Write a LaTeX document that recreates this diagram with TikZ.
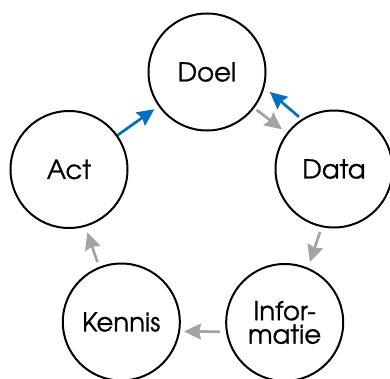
\documentclass[tikz,border=0pt]{standalone}
\usepackage{fontspec}
\setmainfont[FakeBold=0.7,AutoFakeBold=0.7]{texgyreadventor-regular.otf}
\usetikzlibrary{arrows.meta}
\definecolor{arrblue}{HTML}{0070C0}
\definecolor{arrgray}{HTML}{A3A3A3}
\begin{document}
\begin{tikzpicture}[x=1pt,y=1pt,
  stage/.style={circle,draw=black,line width=2pt,minimum size=117pt,inner sep=0pt,
    font=\fontsize{26}{23.5}\selectfont\bfseries,align=center},
  flow/.style={line width=2.7pt,-{Stealth[length=17pt,width=16pt,inset=2pt]}},
  grayflow/.style={flow,arrgray},
  blueflow/.style={flow,arrblue}]
\useasboundingbox (0,0) rectangle (390,378);
\clip (0,0) rectangle (390,378);
\node[stage] (doel)   at (207,306)   {Doel};
\node[stage] (act)    at (69,208.5)  {Act};
\node[stage] (data)   at (334,209)   {Data};
\node[stage] (kennis) at (121.3,56)  {Kennis};
\node[stage] (info)   at (284.7,55.5) {Infor-\\matie};
\draw[grayflow, shorten <=3pt, shorten >=6pt] (doel) -- (data);
\draw[blueflow, shorten <=3.5pt, shorten >=7pt] (data.123) -- (doel.-15.5);
\draw[blueflow, shorten <=0pt, shorten >=5pt] (act) -- (doel);
\draw[grayflow, shorten <=5pt, shorten >=6pt] (data.258) -- (info.67);
\draw[grayflow, shorten <=6pt, shorten >=4pt] (info.189) -- (kennis.-9.5);
\draw[grayflow, shorten <=5pt, shorten >=6pt] (kennis.112) -- (act.-74.4);
\end{tikzpicture}
\end{document}
